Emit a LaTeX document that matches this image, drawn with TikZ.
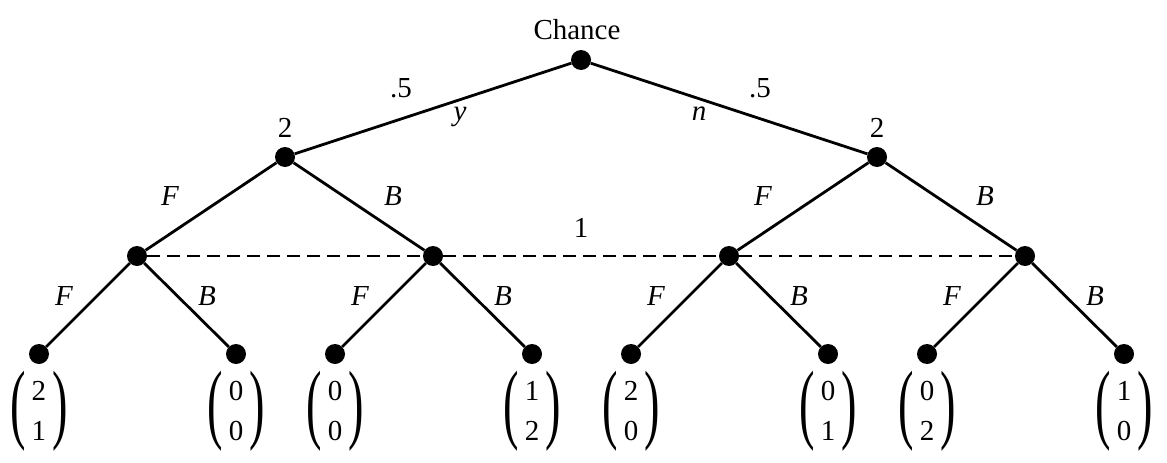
\documentclass[tikz,border=0pt]{standalone}
\usepackage{fontspec}
\setmainfont{Liberation Serif}
\usepackage{graphicx}
\usepackage{tikz}
\usetikzlibrary{positioning}

\newcommand{\bigparen}[1]{\raisebox{-0.49em}{\scalebox{1.6}[3.05]{#1}}}
\newcommand{\payoff}[2]{\bigparen{(}\begin{tabular}{@{\hspace{6pt}}c@{\hspace{6pt}}}#1\\#2\end{tabular}\bigparen{)}}

\begin{document}
\begin{tikzpicture}[
      x=1pt, y=-1pt,
      font=\fontsize{29}{40}\selectfont,
      dot/.style={circle, fill=black, inner sep=0pt, minimum size=20pt},
      move/.style={line width=2.8pt},
      infoset/.style={line width=1.1pt, dash pattern=on 13pt off 7pt},
      lbl/.style={inner sep=0pt, anchor=base},
      pay/.style={inner sep=0pt},
]
\useasboundingbox (0,0) rectangle (1167,463);

% chance and player 2
\node[dot] (root) at (581,60) {};
\node[dot] (p2y) at (285,157) {};
\node[dot] (p2n) at (877,157) {};

% player 1
\node[dot] (p1yF) at (137,256) {};
\node[dot] (p1yB) at (433,256) {};
\node[dot] (p1nF) at (729,256) {};
\node[dot] (p1nB) at (1025,256) {};

% leaves
\node[dot] (t1) at (39,354) {};
\node[dot] (t2) at (236,354) {};
\node[dot] (t3) at (335,354) {};
\node[dot] (t4) at (532,354) {};
\node[dot] (t5) at (631,354) {};
\node[dot] (t6) at (828,354) {};
\node[dot] (t7) at (927,354) {};
\node[dot] (t8) at (1124,354) {};

\draw[move] (root) -- (p2y);
\draw[move] (root) -- (p2n);
\draw[move] (p2y) -- (p1yF);
\draw[move] (p2y) -- (p1yB);
\draw[move] (p2n) -- (p1nF);
\draw[move] (p2n) -- (p1nB);
\draw[move] (p1yF) -- (t1);
\draw[move] (p1yF) -- (t2);
\draw[move] (p1yB) -- (t3);
\draw[move] (p1yB) -- (t4);
\draw[move] (p1nF) -- (t5);
\draw[move] (p1nF) -- (t6);
\draw[move] (p1nB) -- (t7);
\draw[move] (p1nB) -- (t8);
\draw[infoset] (p1yF) -- (p1yB) -- (p1nF) -- (p1nB);

% labels
\node[lbl] (chance) at (577,39) {Chance};
\node[lbl] (py) at (401,97) {.5};
\node[lbl] (pn) at (760,97) {.5};
\node[lbl] (my) at (460,120) {\textit{y}};
\node[lbl] (mn) at (699,120) {\textit{n}};
\node[lbl] (pl2a) at (285,137) {2};
\node[lbl] (pl2b) at (877,137) {2};
\node[lbl] (pl1) at (581,237) {1};

\node[lbl] (aF1) at (170,205) {\textit{F}};
\node[lbl] (aB1) at (393,205) {\textit{B}};
\node[lbl] (aF2) at (763,205) {\textit{F}};
\node[lbl] (aB2) at (985,205) {\textit{B}};

\node[lbl] (bF1) at (64,305) {\textit{F}};
\node[lbl] (bB1) at (207,305) {\textit{B}};
\node[lbl] (bF2) at (360,305) {\textit{F}};
\node[lbl] (bB2) at (503,305) {\textit{B}};
\node[lbl] (bF3) at (656,305) {\textit{F}};
\node[lbl] (bB3) at (799,305) {\textit{B}};
\node[lbl] (bF4) at (952,305) {\textit{F}};
\node[lbl] (bB4) at (1095,305) {\textit{B}};

% payoffs
\node[pay] (u1) at (39,412) {\payoff{2}{1}};
\node[pay] (u2) at (236,412) {\payoff{0}{0}};
\node[pay] (u3) at (335,412) {\payoff{0}{0}};
\node[pay] (u4) at (532,412) {\payoff{1}{2}};
\node[pay] (u5) at (631,412) {\payoff{2}{0}};
\node[pay] (u6) at (828,412) {\payoff{0}{1}};
\node[pay] (u7) at (927,412) {\payoff{0}{2}};
\node[pay] (u8) at (1124,412) {\payoff{1}{0}};

\end{tikzpicture}
\end{document}
